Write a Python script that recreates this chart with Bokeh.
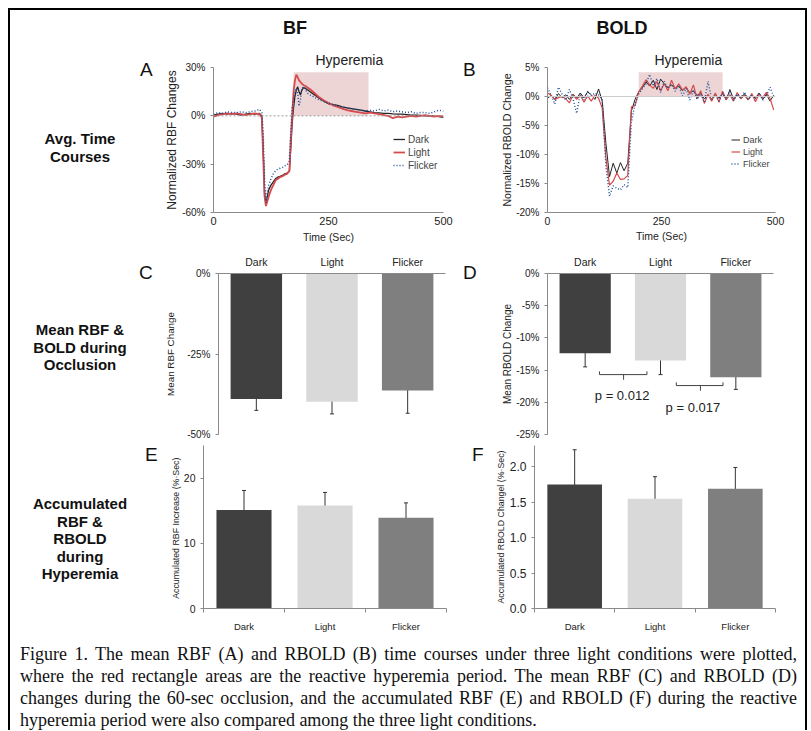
from bokeh.plotting import figure
from bokeh.models import (Range1d, FixedTicker, Label, Legend, LegendItem, Whisker, Title,
                          ColumnDataSource, Div, PrintfTickFormatter, Span, TeeHead)
from bokeh.layouts import column, row
from bokeh.embed import file_html
from bokeh.resources import INLINE

# ---------------- data ----------------
conditions = ["Dark", "Light", "Flicker"]
bar_colors = ["#404040", "#d9d9d9", "#7f7f7f"]

# Panel A: normalized RBF time course (%)
tA = [0, 10, 20, 30, 40, 50, 60, 70, 80, 90, 100, 105, 108, 111, 114, 117, 120, 125, 130, 135,
      140, 145, 150, 155, 160, 165, 168, 171, 174, 177, 180, 183, 186, 189, 192, 196, 200, 205,
      210, 220, 230, 240, 250, 260, 270, 280, 290, 300, 310, 320, 330, 340, 350, 360, 370, 380,
      390, 400, 410, 420, 430, 440, 450, 460, 470, 480, 490, 500]
rbf_dark = [0.5, 1, 1.5, 1, 1.5, 1, 0.5, 1, 1.5, 1, 1.5, 0, -20, -48, -55, -50, -46, -43, -41, -39,
            -38, -37.5, -37, -36, -35.5, -34.5, -20, -5, 5, 12, 16, 18, 15, 13, 16, 17.5, 17, 16,
            15, 13, 11, 9, 7.5, 7, 6.5, 5.5, 5, 4.5, 4, 3.5, 3, 2.5, 2, 1.8, 1.5, 1.5,
            1.2, 1, 1, 0.8, 0.5, 0.5, 0.3, 0, 0, -0.2, -0.5, -1]
rbf_light = [-0.5, 0.5, 1, 1.5, 1, 1.5, 1, 0.5, 1, 1.5, 1, -1, -25, -50, -56, -53, -50, -46, -43, -40,
             -39, -38, -37.5, -36.5, -36, -34, -15, 0, 15, 22, 25.5, 24, 22, 21, 20, 19, 18.5, 17.5,
             16.5, 14, 11.5, 9.5, 8, 6.5, 5.5, 4.5, 3.5, 3, 2.5, 2, 1.5, 2, 1.5, 1, 0.5, 0,
             -1.5, -0.5, -1, -0.5, 0, -0.5, 0, 0.5, 0, -0.5, 0, -0.5]
rbf_flicker = [1, 2, 1.5, 2.5, 2, 2, 2.5, 2, 2.5, 3, 4, 2, -10, -40, -54, -47, -43, -39, -36, -34,
               -33, -32.5, -32, -31, -30.5, -28, -10, 5, 10, 15, 17, 14, 6, 10, 17, 18, 16, 14,
               13, 11.5, 10, 9, 8, 7, 6, 5.5, 5, 4.5, 4, 3.5, 3, 3.5, 3, 4, 3, 3.5,
               2.5, 3, 2.5, 2, 2.5, 1.5, 2, 2, 1.5, 2.5, 3.5, 3]
hyperA = [174, 337, 0, 27]   # x0, x1, y0, y1

# Panel B: normalized RBOLD time course (%)
tB = [0, 8, 16, 24, 32, 40, 48, 56, 64, 72, 80, 88, 96, 104, 112, 120,
      128, 136, 144, 152, 160, 168, 176, 184, 192, 200, 208, 216, 224, 232, 240, 248,
      256, 264, 272, 280, 288, 296, 304, 312, 320, 328, 336, 344, 352, 360, 368, 376,
      384, 392, 400, 408, 416, 424, 432, 440, 448, 456, 464, 472, 480, 488, 496]
bold_dark = [-0.3, 0.2, -0.5, 0.5, -0.2, 0.3, -0.5, 0.4, -0.3, 0.6, -0.2, 0.8, 0.3, -0.5, 1.3, -0.8,
             -8, -13.8, -11.5, -13.2, -11.4, -12.8, -11.5, -2.5, -0.5, 0.8, 1.5, 2.5, 1.8, 2.8, 1.2, 3,
             2.2, 1.5, 2, 1.4, 1.8, 1, 1.6, 0.6, 1, 0.2, 0.6, -0.4, 0.3, -0.5, 0.4, -0.3,
             0.5, -0.6, 1.2, -0.5, 0.3, -0.4, 0.5, -0.6, 0.2, -0.3, 0.6, -0.5, 0.4, -0.8, 0.2]
bold_light = [0.6, 0.2, -0.5, -0.2, 0, -0.4, -1.1, 0.3, -0.5, 0.2, -1.0, 0.1, -0.8, 0.2, -0.3, -2,
              -10.5, -15.3, -14.6, -13.2, -14.3, -14.2, -13.6, -1.8, -1.6, 0.8, 1.8, 2.9, 2.0, 1.4, 2.6, 1.0,
              2.2, 1.0, 2.8, 1.3, 2.2, 1.1, 1.7, 0.4, 2.0, -0.4, 1.0, -1.2, 0.4, -0.8, 0.6, -1.0,
              0.9, -0.5, 0.3, -0.8, 0.7, -0.4, 0.2, -0.6, 0.5, -0.9, 0.4, -0.2, 0.7, -0.3, -2.3]
bold_flicker = [1.5, 0.2, -1.3, 1.6, 0.4, -0.6, 1.2, -0.4, -2.9, 0.6, -0.6, 0.9, 0.1, 0.6, 0.3, -0.6,
                -12, -17.2, -15.4, -15.8, -16.1, -15.2, -15.7, -4.5, -1.2, 0.4, 1.3, 2.2, 3.8, 1.8, 3.1, 0.7,
                2.6, 1.4, 2.1, 0.9, 1.9, 0.1, 1.4, -0.6, 1.0, -0.5, 0.5, -1.0, 2.6, -0.5, 0.2, -0.8,
                0.6, -0.3, 0.9, -0.7, 0.4, -0.2, 0.8, -0.5, 0.3, -0.4, 0.6, -0.6, 0.2, 1.6, 0.0]
hyperB = [200, 384, 0, 4.2]

# Panel C: mean RBF change during occlusion (%)
rbf_occ_mean = [-39.0, -39.8, -36.3]
rbf_occ_err = [3.5, 3.8, 7.1]
# Panel D: mean RBOLD change during occlusion (%)
bold_occ_mean = [-12.4, -13.5, -16.1]
bold_occ_err = [2.1, 2.2, 1.9]
p_text = ["p = 0.012", "p = 0.017"]
br_x0 = [0.69, 1.71]
br_x1 = [1.32, 2.33]
br_mid = [1.01, 2.03]
br_y = [-15.7, -17.4]
p_x = [0.99, 1.93]
p_y = [-18.9, -20.8]
# Panel E: accumulated RBF increase (%*Sec)
rbf_acc_mean = [15.1, 15.8, 13.9]
rbf_acc_err = [3.0, 2.0, 2.3]
# Panel F: accumulated RBOLD change (%*Sec)
bold_acc_mean = [1.75, 1.55, 1.69]
bold_acc_err = [0.49, 0.31, 0.30]

col_titles = ["BF", "BOLD"]
row_titles = [["Avg. Time", "Courses"], ["Mean RBF &", "BOLD during", "Occlusion"],
              ["Accumulated", "RBF &", "RBOLD", "during", "Hyperemia"]]
caption_lines = [
    "Figure 1. The mean RBF (A) and RBOLD (B) time courses under three light conditions were plotted,",
    "where the red rectangle areas are the reactive hyperemia period. The mean RBF (C) and RBOLD (D)",
    "changes during the 60-sec occlusion, and the accumulated RBF (E) and RBOLD (F) during the reactive",
    "hyperemia period were also compared among the three light conditions.",
]

FONT = "Liberation Sans"
AX = "#8a8a8a"
RED = "#d64a4c"
BLUE = "#1f4f9a"
BLACK = "#222222"
PINK = "#eed5d5"


def make_fig(w, h, xr, yr, left, right, top, bottom, xloc="below"):
    p = figure(width=w, height=h, x_range=xr, y_range=yr, output_backend="svg",
               toolbar_location=None, min_border_left=left, min_border_right=right,
               min_border_top=top, min_border_bottom=bottom, x_axis_location=xloc)
    p.grid.visible = False
    p.outline_line_color = None
    p.border_fill_color = None
    p.background_fill_color = None
    for ax in p.axis:
        ax.axis_line_color = AX
        ax.major_tick_line_color = AX
        ax.minor_tick_line_color = AX
        ax.major_tick_in = 0
        ax.major_tick_out = 3
        ax.minor_tick_in = 0
        ax.minor_tick_out = 0
        ax.major_label_standoff = 5
        ax.major_label_text_font = FONT
        ax.major_label_text_color = BLACK
        ax.axis_label_text_font = FONT
        ax.axis_label_text_font_style = "normal"
        ax.axis_label_text_color = BLACK
    return p


def lab(p, x, y, text, size="13px"):
    p.add_layout(Label(x=x, y=y, text=text, text_font=FONT, text_font_size=size,
                       text_align="center", text_baseline="middle", text_color=BLACK))


def hyper_title(p, offset):
    p.title = Title(text="Hyperemia", align="left", offset=offset, standoff=0,
                    text_font=FONT, text_font_size="14px", text_font_style="normal",
                    text_color=BLACK)


def make_legend(p, renderers, loc, gw, size, lh):
    leg = Legend(items=[LegendItem(label=c, renderers=[r]) for c, r in zip(conditions, renderers)],
                 location=loc, glyph_width=gw, glyph_height=lh, label_standoff=3, spacing=1,
                 padding=0, margin=0, border_line_color=None, background_fill_alpha=0,
                 label_text_font=FONT, label_text_font_size=size, label_height=lh)
    p.add_layout(leg)


# ---------------- Panel A ----------------
pA = make_fig(298, 208, Range1d(0, 500), Range1d(-60, 30), 53, 15, 26, 34)
hyper_title(pA, 102)
pA.quad(left=[hyperA[0]], right=[hyperA[1]], bottom=[hyperA[2]], top=[hyperA[3]],
        fill_color=PINK, line_color=None)
pA.add_layout(Span(location=0, dimension="width", line_color="#999999", line_dash="2 2", line_width=1))
rd = pA.line(tA, rbf_dark, line_color=BLACK, line_width=1.3)
rl = pA.line(tA, rbf_light, line_color=RED, line_width=1.8)
rf = pA.line(tA, rbf_flicker, line_color=BLUE, line_width=1.5, line_dash="1 2")
pA.xaxis.ticker = FixedTicker(ticks=[0, 250, 500])
pA.yaxis.ticker = FixedTicker(ticks=[-60, -30, 0, 30])
pA.yaxis.formatter = PrintfTickFormatter(format="%d%%")
pA.yaxis.major_label_text_font_size = "10px"
pA.xaxis.major_label_text_font_size = "11px"
pA.xaxis.major_tick_out = 0
pA.xaxis.major_label_standoff = 4
pA.xaxis.axis_label = "Time (Sec)"
pA.xaxis.axis_label_text_font_size = "10.5px"
pA.xaxis.axis_label_standoff = 3
pA.yaxis.axis_label = "Normalized RBF Changes"
pA.yaxis.axis_label_text_font_size = "12px"
pA.yaxis.axis_label_standoff = 0
make_legend(pA, [rd, rl, rf], (180, 41), 12, "10px", 12)

# ---------------- Panel B ----------------
pB = make_fig(313, 208, Range1d(0, 500), Range1d(-20, 5), 55, 30, 29, 30)
hyper_title(pB, 107)
pB.quad(left=[hyperB[0]], right=[hyperB[1]], bottom=[hyperB[2]], top=[hyperB[3]],
        fill_color=PINK, line_color=None)
pB.add_layout(Span(location=0, dimension="width", line_color="#cccccc", line_width=1))
bd = pB.line(tB, bold_dark, line_color=BLACK, line_width=1)
bl = pB.line(tB, bold_light, line_color=RED, line_width=1.2)
bf = pB.line(tB, bold_flicker, line_color=BLUE, line_width=1.4, line_dash="1 2")
pB.xaxis.ticker = FixedTicker(ticks=[0, 250, 500])
pB.yaxis.ticker = FixedTicker(ticks=[-20, -15, -10, -5, 0, 5])
pB.yaxis.formatter = PrintfTickFormatter(format="%d%%")
pB.yaxis.major_label_text_font_size = "10px"
pB.xaxis.major_label_text_font_size = "10.5px"
pB.xaxis.major_tick_out = 0
pB.xaxis.major_label_standoff = 4
pB.xaxis.axis_label = "Time (Sec)"
pB.xaxis.axis_label_text_font_size = "10.5px"
pB.xaxis.axis_label_standoff = 2
pB.yaxis.axis_label = "Normalized RBOLD Change"
pB.yaxis.axis_label_text_font_size = "10.6px"
pB.yaxis.axis_label_standoff = 0
make_legend(pB, [bd, bl, bf], (184, 43), 9, "9px", 11)

xs = [0.5, 1.5, 2.5]


def bar_panel(w, h, yr, left, right, top, bottom, means, errs, xloc):
    p = make_fig(w, h, Range1d(0, 3), yr, left, right, top, bottom, xloc)
    p.vbar(x=xs, top=means, bottom=0, width=0.68, fill_color=bar_colors, line_color=None)
    src = ColumnDataSource(dict(x=xs, lo=[m - e for m, e in zip(means, errs)],
                                hi=[m + e for m, e in zip(means, errs)]))
    p.add_layout(Whisker(source=src, base="x", lower="lo", upper="hi", line_color="#333333",
                         line_width=1,
                         upper_head=TeeHead(size=4, line_color="#333333", line_width=1),
                         lower_head=TeeHead(size=4, line_color="#333333", line_width=1)))
    p.xaxis.ticker = FixedTicker(ticks=xs, minor_ticks=[0, 1, 2, 3])
    p.xaxis.major_label_overrides = {x: c for x, c in zip(xs, conditions)}
    p.xaxis.major_tick_out = 0
    return p


# ---------------- Panel C ----------------
pC = bar_panel(298, 194, Range1d(-50, 0), 58, 13, 27, 6, rbf_occ_mean, rbf_occ_err, "above")
pC.yaxis.ticker = FixedTicker(ticks=[-50, -25, 0])
pC.yaxis.formatter = PrintfTickFormatter(format="%d%%")
pC.yaxis.major_label_text_font_size = "10px"
pC.xaxis.major_label_text_font_size = "10.5px"
pC.xaxis.major_label_standoff = 6
pC.yaxis.axis_label = "Mean RBF Change"
pC.yaxis.axis_label_text_font_size = "9.8px"
pC.yaxis.axis_label_standoff = 8

# ---------------- Panel D ----------------
pD = bar_panel(313, 194, Range1d(-25, 0), 55, 32, 27, 6, bold_occ_mean, bold_occ_err, "above")
pD.yaxis.ticker = FixedTicker(ticks=[-25, -20, -15, -10, -5, 0])
pD.yaxis.formatter = PrintfTickFormatter(format="%d%%")
pD.yaxis.major_label_text_font_size = "10px"
pD.xaxis.major_label_text_font_size = "10.5px"
pD.xaxis.major_label_standoff = 6
pD.yaxis.axis_label = "Mean RBOLD Change"
pD.yaxis.axis_label_text_font_size = "10px"
pD.yaxis.axis_label_standoff = 0
for x0, x1, xm, y in zip(br_x0, br_x1, br_mid, br_y):
    pD.line([x0, x0, x1, x1], [y + 0.5, y, y, y + 0.5], line_color="#444444", line_width=1)
    pD.line([xm, xm], [y, y - 0.8], line_color="#444444", line_width=1)
for t, x, y in zip(p_text, p_x, p_y):
    lab(pD, x, y, t, size="13px")

# ---------------- Panel E ----------------
pE = bar_panel(298, 199, Range1d(0, 25), 43, 12, 5, 31, rbf_acc_mean, rbf_acc_err, "below")
pE.yaxis.ticker = FixedTicker(ticks=[0, 10, 20])
pE.yaxis.major_label_text_font_size = "10.5px"
pE.xaxis.major_label_text_font_size = "9.5px"
pE.xaxis.minor_tick_out = 4
pE.xaxis.major_label_standoff = 8
pE.yaxis.axis_label = "Accumulated RBF Increase  (%\u00b7Sec)"
pE.yaxis.axis_label_text_font_size = "8.8px"
pE.yaxis.axis_label_standoff = 0

# ---------------- Panel F ----------------
pF = bar_panel(313, 199, Range1d(0, 2.3), 41, 30, 5, 31, bold_acc_mean, bold_acc_err, "below")
pF.yaxis.ticker = FixedTicker(ticks=[0, 0.5, 1.0, 1.5, 2.0])
pF.yaxis.formatter = PrintfTickFormatter(format="%.1f")
pF.yaxis.major_label_text_font_size = "12px"
pF.xaxis.major_label_text_font_size = "9.5px"
pF.xaxis.minor_tick_out = 4
pF.xaxis.major_label_standoff = 8
pF.yaxis.axis_label = "Accumulated RBOLD Changel (%\u00b7Sec)"
pF.yaxis.axis_label_text_font_size = "8.8px"
pF.yaxis.axis_label_standoff = 1

# ---------------- texts outside the plots ----------------
SANS = "font-family:'Liberation Sans',Arial,sans-serif;color:#111;"


def abs_text(text, left, top, width, size, lh, bold=False, align="center"):
    return ("<div style=\"position:absolute;left:%dpx;top:%dpx;width:%dpx;text-align:%s;"
            "font-size:%s;line-height:%spx;font-weight:%s;%s\">%s</div>"
            % (left, top, width, align, size, lh, "bold" if bold else "normal", SANS, text))


def box(w, h, inner):
    return Div(text="<div style=\"position:relative;width:%dpx;height:%dpx;\">%s</div>" % (w, h, inner),
               width=w, height=h, margin=0)


header = box(795, 28, abs_text(col_titles[0], 235, 7, 100, "18px", 22, True)
             + abs_text(col_titles[1], 562, 7, 100, "18px", 22, True))

left_tops = [92, 75, 55]
letter_pos_l = [(130, 22), (129, 17), (135, 5)]
letter_pos_m = [(5, 22), (5, 17), (14, 5)]
row_h = [208, 194, 199]
letters = [("A", "B"), ("C", "D"), ("E", "F")]
rows = []
figs = [(pA, pB), (pC, pD), (pE, pF)]
for i in range(3):
    lt = abs_text("<br>".join(row_titles[i]), 0, left_tops[i], 140, "15px", 17.5, True)
    lt += abs_text(letters[i][0], letter_pos_l[i][0], letter_pos_l[i][1], 20, "19px", 20, False, "left")
    ldiv = box(150, row_h[i], lt)
    mdiv = box(34, row_h[i], abs_text(letters[i][1], letter_pos_m[i][0], letter_pos_m[i][1], 20,
                                      "19px", 20, False, "left"))
    rows.append(row(ldiv, figs[i][0], mdiv, figs[i][1]))

cap_html = "<div style=\"padding:4px 0 0 10px;font-family:'Liberation Serif','Times New Roman',serif;" \
           "font-size:18px;line-height:22px;color:#111;\">"
for j, line in enumerate(caption_lines):
    last = j == len(caption_lines) - 1
    cap_html += ("<div style=\"width:777px;white-space:nowrap;text-align:%s;text-align-last:%s;\">%s</div>"
                 % ("left" if last else "justify", "left" if last else "justify", line))
cap_html += "</div>"
cap = Div(text=cap_html, width=795, height=91, margin=0)

inner = column(header, rows[0], rows[1], rows[2], cap)
H_IN = 28 + sum(row_h) + 91
top_space = Div(text="", width=810, height=8, margin=0)
top_bar = row(Div(text="", width=8, height=2, margin=0),
              Div(text="", width=799, height=2, margin=0, styles={"background-color": "black"}),
              Div(text="", width=3, height=2, margin=0))
left_space = Div(text="", width=8, height=H_IN, margin=0)
left_bar = Div(text="", width=2, height=H_IN, margin=0, styles={"background-color": "black"})
right_bar = Div(text="", width=2, height=H_IN, margin=0, styles={"background-color": "black"})
right_space = Div(text="", width=3, height=H_IN, margin=0)
layout = column(top_space, top_bar, row(left_space, left_bar, inner, right_bar, right_space))

open("out.html", "w").write(file_html(layout, INLINE))
